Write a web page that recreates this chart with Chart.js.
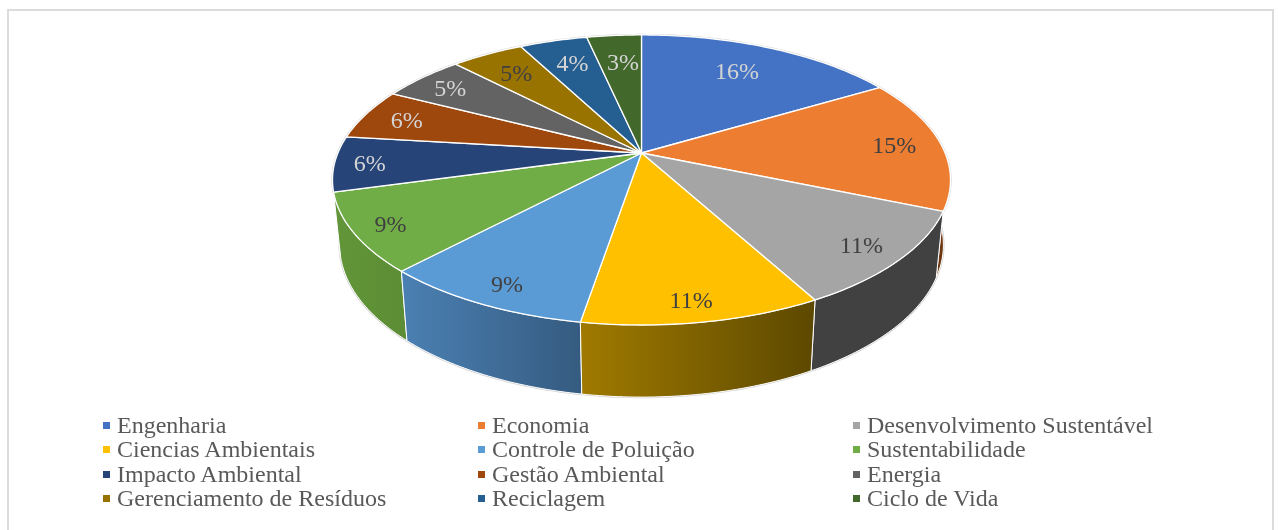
<!DOCTYPE html>
<html>
<head>
<meta charset="utf-8">
<title>Temas</title>
<script src="https://cdn.jsdelivr.net/npm/chart.js@4"></script>
<style>
    html, body { margin: 0; padding: 0; background: #fff; overflow: hidden; }
    #marco { position: absolute; left: 7px; top: 9px; width: 1263px; height: 530px; border: 2px solid #dcdcdc; border-bottom: none; }
    #grafico { position: absolute; left: 0; top: 0; }
    #leyenda { position: absolute; left: 0; top: 0; font: 24px/24.4px "Liberation Serif", serif; color: #595959; }
    #leyenda div { position: absolute; white-space: nowrap; }
    #leyenda span { position: absolute; width: 7px; height: 7px; }
</style>
</head>
<body>
<div id="marco"></div>
<canvas id="grafico" width="1278" height="530"></canvas>
<div id="leyenda"></div>
<script>
const categorias = ['Engenharia', 'Economia', 'Desenvolvimento Sustentável', 'Ciencias Ambientais', 'Controle de Poluição', 'Sustentabilidade', 'Impacto Ambiental', 'Gestão Ambiental', 'Energia', 'Gerenciamento de Resíduos', 'Reciclagem', 'Ciclo de Vida'];
const valores = [16.46, 14.87, 10.75, 10.57, 9.35, 8.75, 6.17, 5.7, 5.2, 4.55, 4.25, 3.42];

const colores = ['#4472C4', '#ED7D31', '#A5A5A5', '#FFC000', '#5B9BD5', '#70AD47', '#264478', '#9E480E', '#636363', '#997300', '#255E91', '#43682B'];
// Color de la pared lateral: izquierda y derecha del degradado
const paredIzq = ['#2c4a80', '#7a3f14', '#414141', '#a07a00', '#4b80b3', '#629639', '#1a2f52', '#6c3109', '#444444', '#695000', '#1a4164', '#2e481e'];
const paredDer = ['#2c4a80', '#6a3510', '#414141', '#5c4800', '#355b80', '#5c8c35', '#1a2f52', '#6c3109', '#444444', '#695000', '#1a4164', '#2e481e'];
const colorEtiqueta = ['#d4d4d4', '#404040', '#404040', '#404040', '#404040', '#404040', '#d4d4d4', '#d4d4d4', '#d4d4d4', '#404040', '#d4d4d4', '#d4d4d4'];
// Distancia de cada etiqueta al centro, como fraccion del radio
const radioEtiqueta = [0.76, 0.84, 0.87, 0.89, 0.89, 0.89, 0.89, 0.85, 0.86, 0.79, 0.78, 0.75];
// Ajuste horizontal de cada etiqueta, en pixeles
const ajusteEtiqueta = [-6, 1, 0, -4, 6, 2, 1, 1, 0, 0, 2, 3];

// Perspectiva del disco superior
const centroX = 641.5, centroY = 153, escalaX = 303.6, escalaY = 140, fuga = 0.186;

function proyectar(angulo, radio) {
    const u = radio * Math.cos(angulo);
    const v = radio * Math.sin(angulo);
    const d = 1 - fuga * v;
    return { x: centroX + escalaX * u / d, y: centroY + escalaY * v / d };
}

// El disco de abajo queda un poco mas chico y desplazado
function bajar(p) {
    return { x: centroX + (p.x - centroX) * 0.977, y: 216.5 + (p.y - centroY) * 1.05 };
}

function puntosArco(a0, a1) {
    const pasos = Math.max(2, Math.ceil((a1 - a0) * 60));
    const puntos = [];
    for (let i = 0; i <= pasos; i++) {
        puntos.push(proyectar(a0 + (a1 - a0) * i / pasos, 1));
    }
    return puntos;
}

const pie3d = {
    id: 'pie3d',
    beforeDatasetsDraw(chart) {
        const ctx = chart.ctx;
        const arcos = chart.getDatasetMeta(0).data;
        const total = valores.reduce((a, b) => a + b, 0);
        ctx.save();
        ctx.lineJoin = 'round';

        // Halo gris del contorno
        const contorno = puntosArco(0, Math.PI * 2);
        [contorno, contorno.map(bajar)].forEach(puntos => {
            ctx.beginPath();
            puntos.forEach(p => ctx.lineTo(p.x, p.y));
            ctx.closePath();
            ctx.strokeStyle = '#cfcfcf';
            ctx.lineWidth = 2.2;
            ctx.stroke();
        });

        // Paredes, de atras hacia adelante
        const orden = arcos.map((_, i) => i).sort((a, b) =>
            Math.sin((arcos[a].startAngle + arcos[a].endAngle) / 2) - Math.sin((arcos[b].startAngle + arcos[b].endAngle) / 2));
        orden.forEach(i => {
            const arriba = puntosArco(arcos[i].startAngle, arcos[i].endAngle);
            const abajo = arriba.map(bajar).reverse();
            const xs = arriba.concat(abajo).map(p => p.x);
            const grad = ctx.createLinearGradient(Math.min(...xs), 0, Math.max(...xs), 0);
            grad.addColorStop(0, paredIzq[i]);
            grad.addColorStop(1, paredDer[i]);
            ctx.beginPath();
            arriba.concat(abajo).forEach(p => ctx.lineTo(p.x, p.y));
            ctx.closePath();
            ctx.fillStyle = grad;
            ctx.fill();
            ctx.strokeStyle = '#fff';
            ctx.lineWidth = 1;
            ctx.stroke();
        });

        // Cara superior
        arcos.forEach((arco, i) => {
            ctx.beginPath();
            ctx.moveTo(centroX, centroY);
            puntosArco(arco.startAngle, arco.endAngle).forEach(p => ctx.lineTo(p.x, p.y));
            ctx.closePath();
            ctx.fillStyle = colores[i];
            ctx.fill();
            ctx.strokeStyle = '#fff';
            ctx.lineWidth = 1.3;
            ctx.stroke();
        });

        // Etiquetas de porcentaje
        ctx.font = '24px "Liberation Serif"';
        ctx.textAlign = 'center';
        ctx.textBaseline = 'middle';
        arcos.forEach((arco, i) => {
            const p = proyectar((arco.startAngle + arco.endAngle) / 2, radioEtiqueta[i]);
            ctx.fillStyle = colorEtiqueta[i];
            ctx.fillText(Math.round(valores[i] / total * 100) + '%', p.x + ajusteEtiqueta[i], p.y + 2);
        });
        ctx.restore();
        return false;
    }
};

// Leyenda en tres columnas armada con los items de Chart.js
const leyendaHtml = {
    id: 'leyendaHtml',
    afterUpdate(chart) {
        const caja = document.getElementById('leyenda');
        caja.innerHTML = '';
        const items = chart.options.plugins.legend.labels.generateLabels(chart);
        items.forEach((item, i) => {
            const col = i % 3;
            const fila = Math.floor(i / 3);
            const linea = document.createElement('div');
            linea.style.left = (117 + col * 375) + 'px';
            linea.style.top = (413 + fila * 24.4) + 'px';
            linea.textContent = item.text;
            const marca = document.createElement('span');
            marca.style.left = '-14px';
            marca.style.top = '9px';
            marca.style.background = item.fillStyle;
            linea.appendChild(marca);
            caja.appendChild(linea);
        });
    }
};

new Chart(document.getElementById('grafico'), {
    type: 'pie',
    data: {
        labels: categorias,
        datasets: [{
            data: valores,
            backgroundColor: colores,
            borderWidth: 0
        }]
    },
    options: {
        responsive: false,
        animation: false,
        plugins: {
            legend: { display: false },
            tooltip: { enabled: false }
        }
    },
    plugins: [pie3d, leyendaHtml]
});
</script>
</body>
</html>
